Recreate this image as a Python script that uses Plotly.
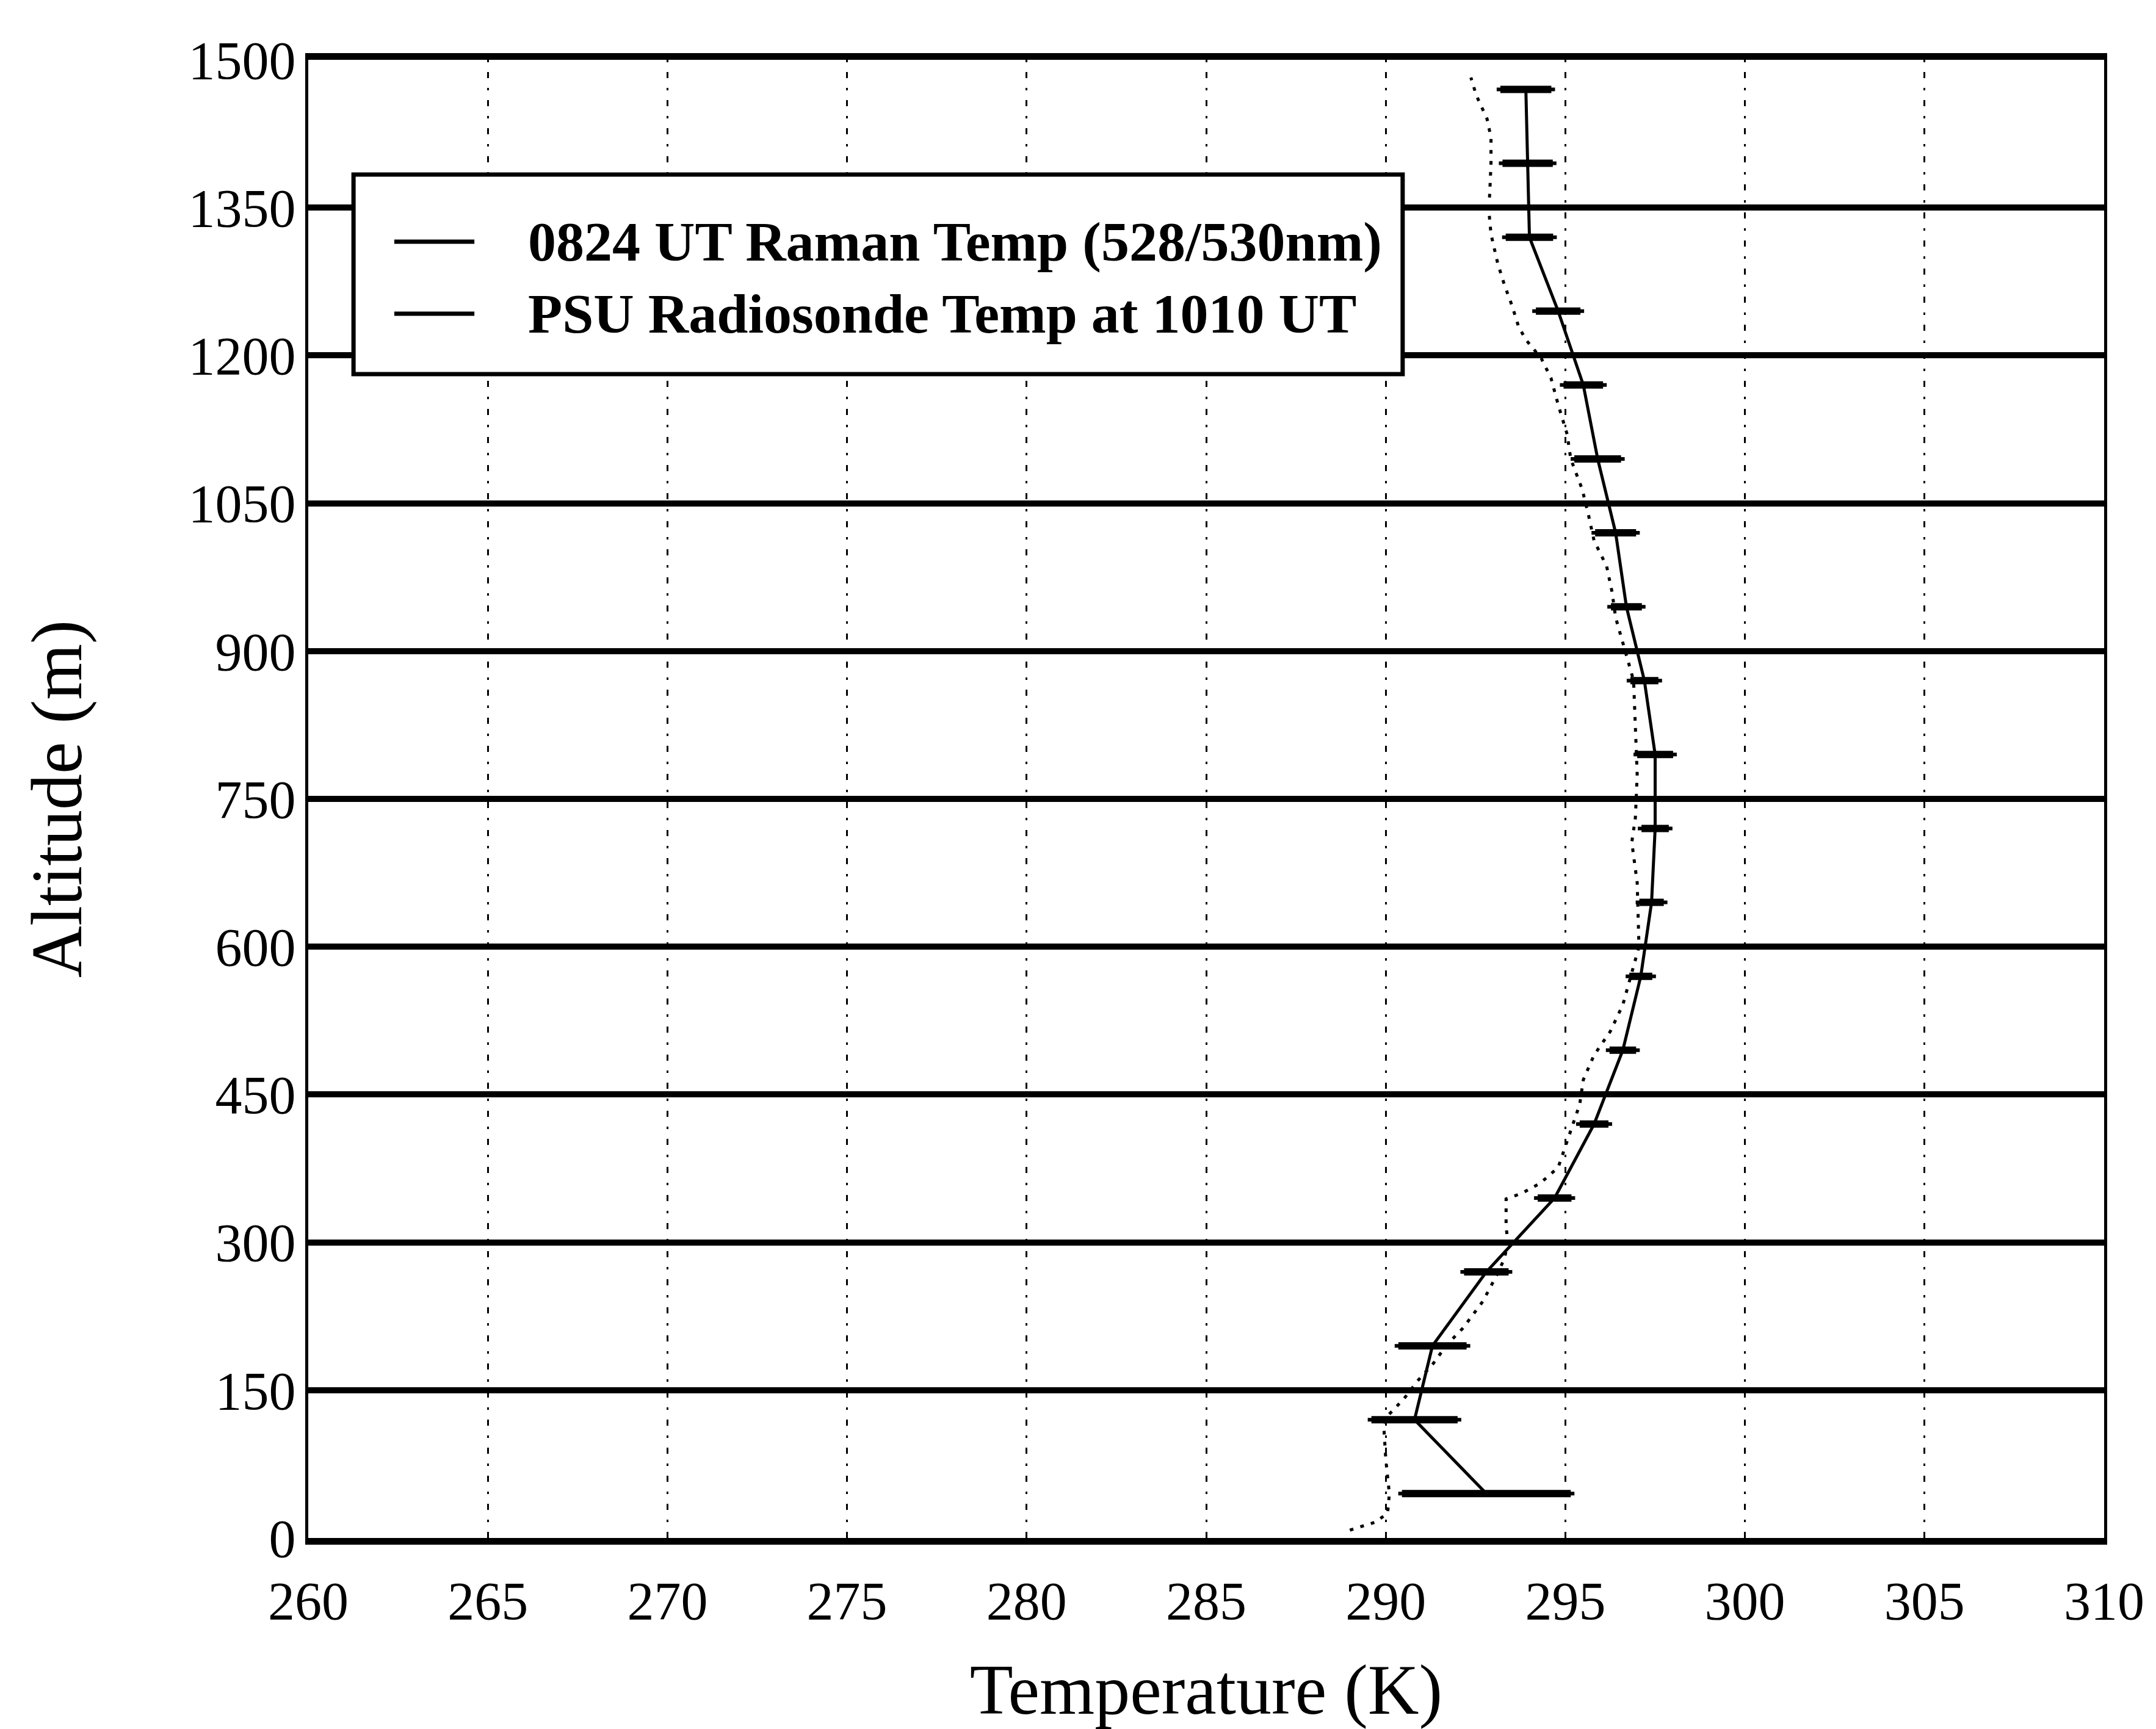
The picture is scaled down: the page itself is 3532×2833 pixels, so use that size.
import plotly.graph_objects as go

# Raman lidar temperature profile (0824 UT) with its uncertainty
raman_alt = [45, 120, 195, 270, 345, 420, 495, 570, 645, 720,
             795, 870, 945, 1020, 1095, 1170, 1245, 1320, 1395, 1470]
raman_temp = [292.8, 290.8, 291.3, 292.8, 294.7, 295.8, 296.6, 297.1, 297.4, 297.5,
              297.5, 297.2, 296.7, 296.4, 295.9, 295.5, 294.8, 294.0, 293.95, 293.9]
raman_err = [2.35, 1.2, 0.95, 0.62, 0.47, 0.4, 0.37, 0.32, 0.34, 0.38,
             0.5, 0.39, 0.43, 0.57, 0.65, 0.55, 0.62, 0.66, 0.7, 0.71]

# PSU radiosonde temperature profile (1010 UT)
sonde_alt = [8, 16, 25, 45, 80, 110, 122, 141, 160, 176, 196, 213, 240, 264, 283,
             300, 316, 344, 350, 360, 376, 440, 465, 490, 514, 541, 600, 665, 706,
             731, 775, 825, 870, 934, 960, 986, 1012, 1037, 1064, 1095, 1120, 1150,
             1177, 1197, 1216, 1229, 1250, 1272, 1293, 1323, 1347, 1369, 1396, 1421,
             1440, 1464, 1482]
sonde_temp = [289.0, 289.7, 290.05, 290.1, 290.0, 289.95, 290.0, 290.5, 290.9, 291.3,
              291.7, 292.15, 292.7, 293.05, 293.3, 293.4, 293.35, 293.35, 293.8, 294.3,
              294.8, 295.4, 295.5, 295.8, 296.25, 296.6, 297.05, 297.0, 296.85, 296.95,
              297.0, 296.95, 296.9, 296.4, 296.3, 296.15, 295.8, 295.65, 295.47, 295.15,
              295.05, 294.8, 294.6, 294.33, 293.9, 293.7, 293.52, 293.3, 293.12, 292.93,
              292.87, 292.9, 292.93, 292.93, 292.82, 292.52, 292.37]

series_names = ["0824 UT Raman Temp (528/530nm)", "PSU Radiosonde Temp at 1010 UT"]

x_ticks = [260, 265, 270, 275, 280, 285, 290, 295, 300, 305, 310]
y_ticks = [0, 150, 300, 450, 600, 750, 900, 1050, 1200, 1350, 1500]

SERIF = "Liberation Serif"

fig = go.Figure()

fig.add_trace(go.Scatter(
    x=sonde_temp, y=sonde_alt, mode="lines", name=series_names[1],
    line=dict(color="black", width=5, dash="6px,12px"),
    showlegend=False,
))

fig.add_trace(go.Scatter(
    x=raman_temp, y=raman_alt, mode="lines", name=series_names[0],
    line=dict(color="black", width=5),
    error_x=dict(type="data", array=raman_err, visible=True,
                 color="black", thickness=12, width=3),
    showlegend=False,
))

# Boxed key in the upper-left corner
key_x0, key_x1, key_y0, key_y1 = 0.0252, 0.6094, 0.7874, 0.9224
row_y = [0.877, 0.8282]
shapes = [dict(type="rect", xref="paper", yref="paper",
               x0=key_x0, x1=key_x1, y0=key_y0, y1=key_y1,
               line=dict(color="black", width=7), fillcolor="white", layer="above")]
annotations = []
for name, yy in zip(series_names, row_y):
    shapes.append(dict(type="line", xref="paper", yref="paper",
                       x0=0.0479, x1=0.0925, y0=yy, y1=yy,
                       line=dict(color="black", width=7), layer="above"))
    annotations.append(dict(text="<b>" + name + "</b>", xref="paper", yref="paper",
                            x=0.1217, y=yy, xanchor="left", yanchor="middle",
                            showarrow=False, font=dict(family=SERIF, size=92, color="black")))

fig.update_layout(
    width=3532, height=2833,
    margin=dict(l=505, r=85, t=98, b=313),
    paper_bgcolor="white", plot_bgcolor="white",
    font=dict(family=SERIF, color="black"),
    shapes=shapes, annotations=annotations,
    showlegend=False,
)

fig.update_xaxes(
    range=[260, 310], tickvals=x_ticks, ticktext=[str(v) for v in x_ticks],
    ticks="", ticklabelstandoff=16,
    tickfont=dict(family=SERIF, size=88, color="black"),
    showline=True, mirror=True, linecolor="black", linewidth=11,
    showgrid=True, gridcolor="black", gridwidth=3, griddash="4px,16px,10px,16px",
    zeroline=False,
    title=dict(text="Temperature (K)", font=dict(family=SERIF, size=116, color="black"),
               standoff=68),
)

fig.update_yaxes(
    range=[0, 1500], tickvals=y_ticks, ticktext=[str(v) for v in y_ticks],
    ticks="", ticklabelstandoff=-2,
    tickfont=dict(family=SERIF, size=88, color="black"),
    showline=True, mirror=True, linecolor="black", linewidth=5,
    showgrid=True, gridcolor="black", gridwidth=10,
    zeroline=False,
    title=dict(text="Altitude (m)", font=dict(family=SERIF, size=118, color="black"),
               standoff=137),
)

fig.write_html("out.html")
